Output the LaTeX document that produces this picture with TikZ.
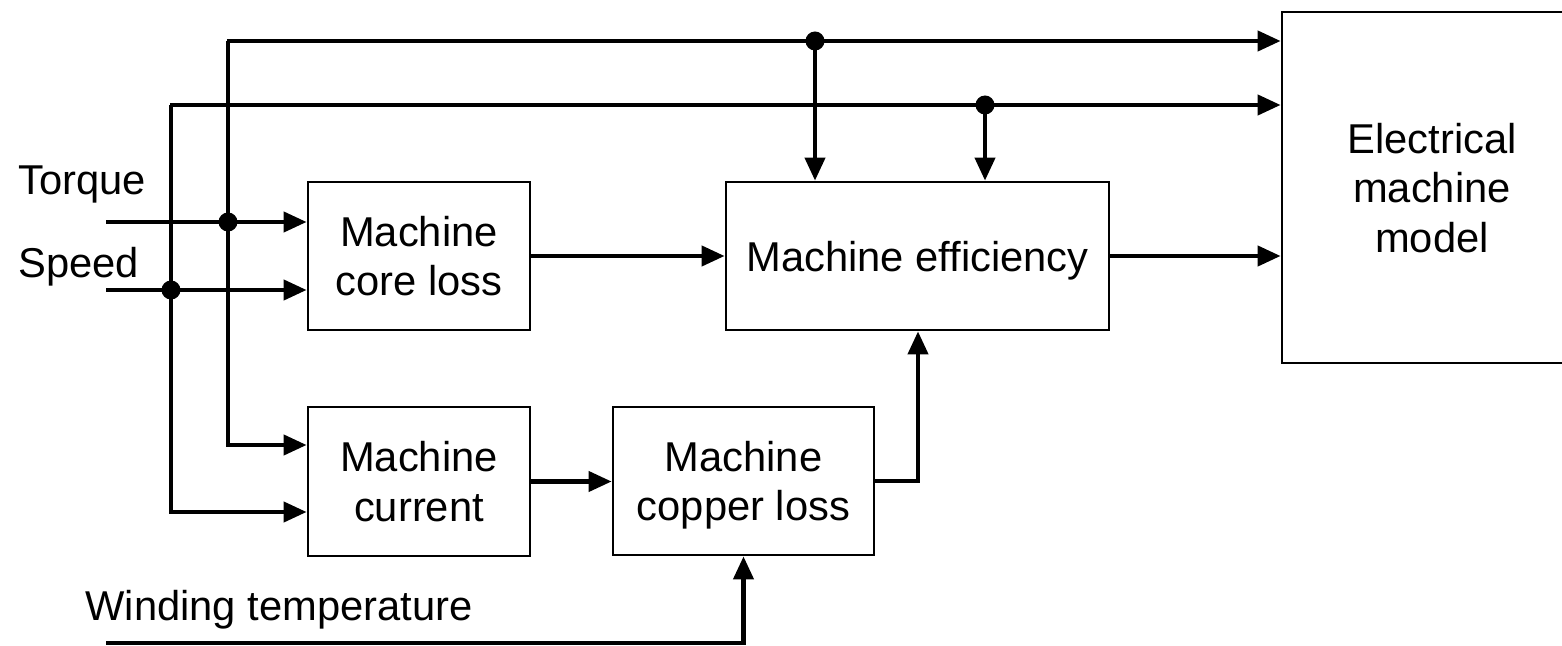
\documentclass[tikz,border=0pt]{standalone}
\usepackage{fontspec}
\setmainfont{Liberation Sans}
\usetikzlibrary{arrows.meta}
\begin{document}
\begin{tikzpicture}[x=0.5pt,y=-0.5pt,
  blk/.style={draw,line width=1.4pt,inner sep=0pt,align=center,text depth=0pt,
    font=\fontsize{20.85pt}{24.8pt}\selectfont},
  arr/.style={line width=2.1pt,-{Triangle[length=11.5pt,width=10pt]}},
  wire/.style={line width=2.1pt},
  lbl/.style={inner sep=0pt,font=\fontsize{20.85pt}{25pt}\selectfont},
  dot/.style={circle,fill,inner sep=0pt,minimum size=9.5pt}]
\useasboundingbox (0,0) rectangle (1562,646);
% blocks
\node[blk,minimum width=111pt,minimum height=74pt] (core) at (419,256) {Machine\\core loss};
\node[blk,minimum width=111pt,minimum height=74.5pt] (cur) at (419,481.5) {Machine\\current};
\node[blk,minimum width=130.5pt,minimum height=74pt] (cop) at (743.5,481) {Machine\\copper loss};
\node[blk,minimum width=191.5pt,minimum height=74pt] (eff) at (917.5,256) {Machine efficiency};
\node[blk,minimum width=150pt,minimum height=175.5pt] (model) at (1432,187.5) {Electrical\\machine\\model};
% labels
\node[lbl,anchor=base west] (lt) at (18,195) {Torque};
\node[lbl,anchor=base west] (ls) at (18,278) {Speed};
\node[lbl,anchor=base west] (lw) at (85,620) {Winding temperature};
% coordinates
\coordinate (tin) at (106,222);
\coordinate (sin) at (106,290);
\coordinate (win) at (106,643);
\coordinate (cA) at (228,41);
\coordinate (cA2) at (228,445);
\coordinate (cB) at (171,105);
\coordinate (cB2) at (171,512);
\coordinate (cW) at (743.5,643);
\coordinate (cC) at (918,481);
% wires
\draw[arr] (tin) -- (tin -| core.west);
\draw[arr] (sin) -- (sin -| core.west);
\draw[arr] (cA) -- (cA -| model.west);
\draw[arr] (cB) -- (cB -| model.west);
\draw[arr,line join=miter] (cA) -- (cA2) -- (cA2 -| cur.west);
\draw[arr,line join=miter] (cB) -- (cB2) -- (cB2 -| cur.west);
\draw[wire] (cA) -- ++(-1,0);
\draw[wire] (cB) -- ++(-1,0);
\node[dot] (jT) at (cA |- tin) {};
\node[dot] (jS) at (cB |- sin) {};
\node[dot] (jE1) at (815,41) {};
\node[dot] (jE2) at (985,105) {};
\draw[arr] (jE1.center) -- (jE1 |- eff.north);
\draw[arr] (jE2.center) -- (jE2 |- eff.north);
\draw[arr] (core.east) -- (core.east -| eff.west);
\draw[arr] (eff.east) -- (eff.east -| model.west);
\draw[arr] (cur.east) -- (cur.east -| cop.west);
\draw[arr,line join=miter] (cop.east) -- (cop.east -| cC) -- (cC |- eff.south);
\draw[arr,line join=miter] (win) -- (cW) -- (cop.south);
\end{tikzpicture}
\end{document}
